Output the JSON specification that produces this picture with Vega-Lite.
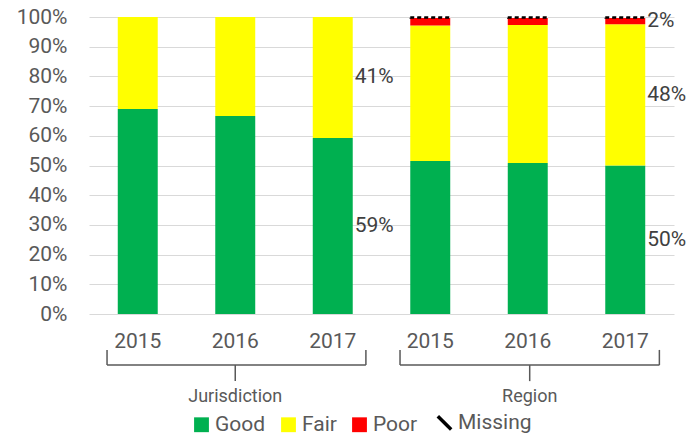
{
  "$schema": "https://vega.github.io/schema/vega-lite/v6.json",
  "width": 585,
  "height": 297,
  "autosize": "none",
  "padding": {"left": 89, "top": 17, "right": 21, "bottom": 124},
  "config": {
    "font": "Roboto",
    "view": {"stroke": null},
    "axis": {"labelColor": "#595959", "labelFontSize": 21}
  },
  "datasets": {
    "bars": [
      {"group": "Jurisdiction", "year": "2015", "status": "Good", "value": 0.69},
      {"group": "Jurisdiction", "year": "2015", "status": "Fair", "value": 0.31},
      {"group": "Jurisdiction", "year": "2016", "status": "Good", "value": 0.667},
      {"group": "Jurisdiction", "year": "2016", "status": "Fair", "value": 0.333},
      {"group": "Jurisdiction", "year": "2017", "status": "Good", "value": 0.593},
      {"group": "Jurisdiction", "year": "2017", "status": "Fair", "value": 0.407},
      {"group": "Region", "year": "2015", "status": "Good", "value": 0.515},
      {"group": "Region", "year": "2015", "status": "Fair", "value": 0.456},
      {"group": "Region", "year": "2015", "status": "Poor", "value": 0.026},
      {"group": "Region", "year": "2015", "status": "Missing", "value": 0.003},
      {"group": "Region", "year": "2016", "status": "Good", "value": 0.508},
      {"group": "Region", "year": "2016", "status": "Fair", "value": 0.465},
      {"group": "Region", "year": "2016", "status": "Poor", "value": 0.024},
      {"group": "Region", "year": "2016", "status": "Missing", "value": 0.003},
      {"group": "Region", "year": "2017", "status": "Good", "value": 0.5},
      {"group": "Region", "year": "2017", "status": "Fair", "value": 0.476},
      {"group": "Region", "year": "2017", "status": "Poor", "value": 0.021},
      {"group": "Region", "year": "2017", "status": "Missing", "value": 0.003}
    ],
    "groups": [
      {"group": "Jurisdiction", "start": 0.185, "end": 2.84, "mid": 1.5},
      {"group": "Region", "start": 3.19, "end": 5.85, "mid": 4.52}
    ]
  },
  "resolve": {"scale": {"x": "independent", "y": "independent"}, "axis": {"x": "independent", "y": "independent"}},
  "layer": [
    {
      "data": {"name": "groups"},
      "encoding": {
        "x": {"field": "start", "type": "quantitative", "scale": {"domain": [0, 6], "nice": false, "zero": false}, "axis": null}
      },
      "layer": [
        {
          "mark": {"type": "rule", "color": "#595959", "strokeWidth": 1.5, "clip": false},
          "encoding": {"x2": {"field": "end"}, "y": {"datum": -0.172, "scale": {"domain": [0, 1], "nice": false, "zero": false}, "axis": null}}
        },
        {
          "mark": {"type": "rule", "color": "#595959", "strokeWidth": 1.5, "clip": false},
          "encoding": {"y": {"datum": -0.121}, "y2": {"datum": -0.172}}
        },
        {
          "mark": {"type": "rule", "color": "#595959", "strokeWidth": 1.5, "clip": false},
          "encoding": {"x": {"field": "end", "type": "quantitative"}, "y": {"datum": -0.121}, "y2": {"datum": -0.172}}
        },
        {
          "mark": {"type": "rule", "color": "#595959", "strokeWidth": 1.5, "clip": false},
          "encoding": {"x": {"field": "mid", "type": "quantitative"}, "y": {"datum": -0.172}, "y2": {"datum": -0.226}}
        },
        {
          "mark": {"type": "text", "baseline": "middle", "fontSize": 18, "color": "#595959", "clip": false},
          "encoding": {"x": {"field": "mid", "type": "quantitative"}, "y": {"datum": -0.28}, "text": {"field": "group"}}
        }
      ]
    },
    {
      "data": {"name": "bars"},
      "transform": [
        {"calculate": "datum.group + '|' + datum.year", "as": "key"},
        {"calculate": "indexof(['Good','Fair','Poor','Missing'], datum.status)", "as": "rank"},
        {"stack": "value", "groupby": ["key"], "sort": [{"field": "rank", "order": "ascending"}], "as": ["v0", "v1"]},
        {"calculate": "(datum.v0 + datum.v1) / 2", "as": "vmid"}
      ],
      "encoding": {
        "x": {
          "field": "key",
          "type": "nominal",
          "sort": "ascending",
          "title": null,
          "scale": {"paddingInner": 0.59, "paddingOuter": 0.295},
          "axis": {
            "orient": "bottom",
            "labelExpr": "split(datum.label, '|')[1]",
            "labelAngle": 0,
            "domain": false,
            "ticks": false,
            "labelPadding": 16,
            "grid": false
          }
        },
        "y": {
          "field": "v0",
          "type": "quantitative",
          "title": null,
          "scale": {"domain": [0, 1], "nice": false},
          "axis": {
            "orient": "left",
            "format": ".0%",
            "values": [0, 0.1, 0.2, 0.3, 0.4, 0.5, 0.6, 0.7, 0.8, 0.9, 1],
            "grid": true,
            "gridColor": "#d9d9d9",
            "gridWidth": 1,
            "labelOverlap": false,
            "domain": false,
            "ticks": false,
            "labelPadding": 22
          }
        }
      },
      "layer": [
        {
          "mark": {"type": "bar", "strokeDash": [4, 3], "strokeWidth": 1.5},
          "encoding": {
            "y2": {"field": "v1"},
            "color": {
              "field": "status",
              "type": "nominal",
              "scale": {
                "domain": ["Good", "Fair", "Poor", "Missing"],
                "range": ["#00b050", "#ffff00", "#ff0000", "#ffffff"]
              },
              "legend": {
                "title": null,
                "orient": "none",
                "legendX": 102,
                "legendY": 395,
                "direction": "horizontal",
                "symbolType": "square",
                "symbolSize": 220,
                "labelFontSize": 21,
                "labelColor": "#595959",
                "labelOffset": 3,
                "columnPadding": 12,
                "symbolStrokeColor": "#000000",
                "symbolStrokeWidth": 3.5,
                "encode": {
                  "symbols": {
                    "update": {
                      "shape": {"signal": "datum.value === 'Missing' ? 'M-0.9,-0.9L0.9,0.9' : 'square'"},
                      "stroke": {"signal": "datum.value === 'Missing' ? '#000000' : 'transparent'"},
                      "strokeWidth": {"signal": "datum.value === 'Missing' ? 3.5 : 0"}
                    }
                  }
                }
              }
            },
            "stroke": {
              "condition": {"test": "datum.status === 'Missing'", "value": "#000000"},
              "value": null
            }
          }
        },
        {
          "transform": [
            {"filter": "datum.year === '2017' && datum.status !== 'Missing'"},
            {"calculate": "datum.vmid", "as": "v0"}
          ],
          "mark": {"type": "text", "align": "left", "baseline": "middle", "dx": 22, "fontSize": 21, "color": "#404040"},
          "encoding": {
            "text": {"field": "value", "type": "quantitative", "format": ".0%"}
          }
        }
      ]
    }
  ]
}
